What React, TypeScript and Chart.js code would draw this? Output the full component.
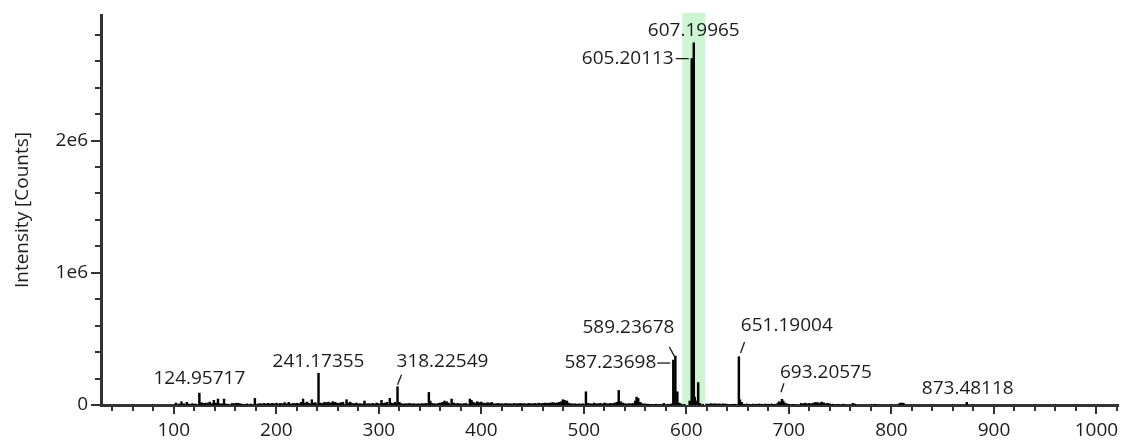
import React, { useEffect, useRef } from 'react';
import { Chart, registerables } from 'chart.js';

Chart.register(...registerables);

// ---------- data ----------
const peakMz: number[] = [
  102.1, 105.0, 107.5, 109.9, 112.7, 115.0, 118.1, 121.0, 124.95717, 127.1, 129.0, 130.9, 133.0, 135.1, 137.0,
  139.1, 141.0, 143.1, 145.2, 147.0, 149.0, 151.1, 153.0, 157.1, 159.0, 161.1, 163.0, 165.1, 167.0, 171.1,
  175.0, 179.1, 182.1, 184.0, 186.0, 188.1, 190.0, 192.1, 194.0, 196.1, 198.0,
  200.1, 202.1, 204.0, 206.2, 208.1, 210.0, 212.1, 214.0, 216.1, 218.0, 220.1, 222.0, 224.1, 226.1, 228.0,
  230.1, 232.0, 234.6, 236.0, 238.1, 241.17355, 243.0, 245.1, 247.0, 249.1, 251.0, 253.1, 255.0, 257.1, 259.0,
  261.1, 263.0, 265.1, 268.5, 270.0, 272.1, 274.0, 276.1, 278.0, 280.1, 282.0, 284.1, 286.0, 288.1, 290.0,
  292.1, 294.0, 296.1, 298.0,
  300.1, 302.6, 304.0, 306.1, 308.0, 310.7, 312.0, 314.1, 316.0, 318.22549, 320.1, 322.0, 324.1, 326.0, 328.1,
  330.0, 332.1, 334.0, 336.1, 338.0, 340.1, 342.0, 344.1, 346.0, 348.8, 350.2, 352.0, 354.1, 356.0, 358.1,
  360.0, 362.1, 364.0, 366.1, 368.0, 371.0, 373.1, 375.0, 377.1, 379.0, 381.1, 383.0, 385.1, 388.8, 390.4,
  392.0, 394.1, 396.0, 398.1,
  400.0, 402.1, 404.0, 406.1, 408.0, 410.1, 412.0, 414.1, 416.0, 418.1, 420.0, 422.1, 424.0, 426.1, 428.0,
  430.1, 432.0, 434.1, 436.0, 438.1, 440.0, 442.1, 444.0, 446.1, 448.0, 450.1, 452.0, 454.1, 456.0, 458.1,
  460.0, 462.1, 464.0, 466.1, 468.0, 470.1, 472.0, 474.1, 476.0, 478.1, 479.5, 481.2, 483.4, 485.0, 487.1,
  489.0, 491.1, 493.0, 495.1, 497.0, 499.1,
  502.0, 504.1, 506.0, 508.1, 510.0, 512.1, 514.0, 516.1, 518.0, 520.1, 522.0, 524.1, 526.0, 528.1, 530.0,
  532.1, 534.0, 536.1, 538.0, 540.1, 542.0, 544.1, 546.0, 548.1, 550.0, 551.4, 553.0, 555.1, 557.0, 559.1,
  561.0, 563.1, 566.0, 570.1, 574.0, 578.0, 582.1, 585.2, 587.23698, 589.23678, 591.2, 593.1, 595.0, 598.0,
  603.2, 605.20113, 607.19965, 608.2, 609.2, 611.5, 613.2, 616.0, 620.0,
  622.1, 624.0, 626.1, 628.0, 630.1, 632.0, 634.1, 636.0, 638.1, 640.0, 644.1, 647.0, 651.19004, 652.2, 653.9,
  656.0, 659.1, 662.0, 665.1, 668.0, 671.1, 674.0, 677.1, 680.0, 683.1, 686.0, 689.1, 690.5, 692.1, 693.20575,
  694.5, 696.0, 697.5, 700.0, 704.1, 712.0, 714.1, 716.0, 718.1, 720.0, 722.1, 724.0, 726.1, 728.0, 730.1,
  732.0, 734.1, 736.0, 738.1, 740.0, 743.1, 748.0, 753.1, 762.4, 764.0, 784.0, 808.0, 809.5, 811.0, 812.3,
  873.48118,
];

const peakIntensity: number[] = [
  15000, 8000, 25000, 9000, 20000, 7000, 10000, 8000, 90000, 18000, 12000, 14000, 15000, 22000, 10000,
  35000, 14000, 45000, 9000, 8000, 45000, 7000, 6000, 12000, 10000, 14000, 12000, 9000, 6000, 8000,
  7000, 50000, 8000, 10000, 9000, 12000, 8000, 13000, 9000, 12000, 9000,
  14000, 8000, 12000, 10000, 18000, 9000, 20000, 8000, 12000, 10000, 13000, 9000, 20000, 45000, 15000,
  22000, 12000, 40000, 14000, 18000, 240000, 15000, 12000, 20000, 18000, 22000, 15000, 25000, 20000, 15000,
  12000, 18000, 20000, 40000, 15000, 22000, 12000, 10000, 15000, 9000, 10000, 8000, 30000, 9000, 10000,
  8000, 12000, 9000, 15000,
  10000, 35000, 12000, 15000, 20000, 50000, 15000, 12000, 20000, 138000, 20000, 10000, 8000, 10000, 9000,
  12000, 8000, 10000, 7000, 9000, 8000, 10000, 9000, 12000, 95000, 30000, 12000, 10000, 8000, 12000,
  15000, 20000, 30000, 25000, 15000, 45000, 15000, 10000, 12000, 9000, 8000, 10000, 12000, 45000, 35000,
  20000, 15000, 25000, 18000,
  22000, 15000, 12000, 18000, 14000, 20000, 9000, 10000, 12000, 9000, 10000, 8000, 12000, 9000, 10000,
  8000, 12000, 9000, 10000, 12000, 9000, 10000, 8000, 12000, 10000, 9000, 12000, 10000, 14000, 10000,
  12000, 15000, 12000, 14000, 16000, 18000, 14000, 16000, 20000, 25000, 40000, 35000, 30000, 15000, 10000,
  8000, 9000, 7000, 8000, 7000, 9000,
  100000, 12000, 10000, 8000, 15000, 9000, 10000, 12000, 8000, 15000, 10000, 9000, 12000, 10000, 15000,
  20000, 110000, 25000, 15000, 10000, 8000, 10000, 9000, 12000, 30000, 60000, 50000, 20000, 10000, 8000,
  7000, 6000, 5000, 6000, 5000, 12000, 6000, 8000, 340000, 370000, 100000, 15000, 8000, 5000,
  30000, 2620000, 2740000, 60000, 30000, 170000, 12000, 5000, 8000,
  6000, 10000, 8000, 9000, 7000, 8000, 6000, 9000, 7000, 6000, 5000, 6000, 365000, 40000, 20000,
  6000, 8000, 5000, 7000, 6000, 8000, 5000, 7000, 6000, 8000, 6000, 15000, 25000, 20000, 43000,
  30000, 15000, 10000, 6000, 5000, 12000, 10000, 14000, 9000, 12000, 10000, 15000, 20000, 18000, 14000,
  22000, 16000, 10000, 12000, 8000, 6000, 5000, 6000, 12000, 8000, 5000, 12000, 15000, 14000, 10000,
  20000,
];

const labelMz: number[] = [
  124.95717, 241.17355, 318.22549, 587.23698, 589.23678, 605.20113, 607.19965, 651.19004, 693.20575, 873.48118,
];
const labelText: string[] = [
  '124.95717', '241.17355', '318.22549', '587.23698', '589.23678', '605.20113', '607.19965', '651.19004',
  '693.20575', '873.48118',
];

const highlightRange: number[] = [596, 618.4];

const xRange: number[] = [29, 1021];
const xMajorTicks: number[] = [100, 200, 300, 400, 500, 600, 700, 800, 900, 1000];
const xMinorStep = 20;

const yRange: number[] = [0, 2950000];
const yMajorTicks: number[] = [0, 1000000, 2000000];
const yTickLabels: string[] = ['0', '1e6', '2e6'];
const yMinorStep = 200000;

const yAxisTitle = 'Intensity [Counts]';

// ---------- styles (label placement relative to peak top, px) ----------
type LabelLayout = { align: 'center' | 'left' | 'right'; tx: number; ty: number; leader?: number[] };
const labelLayout: LabelLayout[] = [
  { align: 'center', tx: 0, ty: -15 },
  { align: 'center', tx: 0, ty: -12 },
  { align: 'left', tx: -1, ty: -25, leader: [0, -2, 4, -12] },
  { align: 'right', tx: -17, ty: 3, leader: [-16, 3, -3, 3] },
  { align: 'right', tx: -1, ty: -28, leader: [-6, -9, -1, 0] },
  { align: 'right', tx: -18, ty: 0, leader: [-16, 0, -3, 0] },
  { align: 'center', tx: 0, ty: -12 },
  { align: 'left', tx: 2, ty: -31, leader: [1.7, -3.7, 5.7, -14.7] },
  { align: 'left', tx: -2, ty: -27, leader: [-1, -7, 2, -16] },
  { align: 'center', tx: 1, ty: -14 },
];

const FONT = "'Open Sans', 'Noto Sans', sans-serif";
const FONT_SIZE = 19;
const TEXT_COLOR = '#1c1c1c';
const AXIS_COLOR = '#333333';
const BAND_COLOR = '#cdf5d1';

export default function App() {
  const canvasRef = useRef<HTMLCanvasElement | null>(null);

  useEffect(() => {
    const canvas = canvasRef.current;
    if (!canvas) return;

    const xTicks: number[] = [];
    for (let v = 40; v <= xRange[1]; v += xMinorStep) xTicks.push(v);
    const yTicks: number[] = [];
    for (let v = 0; v <= yRange[1]; v += yMinorStep) yTicks.push(v);

    const bandPlugin = {
      id: 'band',
      beforeDatasetsDraw(chart: any) {
        const { ctx, chartArea, scales } = chart;
        const x1 = scales.x.getPixelForValue(highlightRange[0]);
        const x2 = scales.x.getPixelForValue(highlightRange[1]);
        ctx.save();
        ctx.fillStyle = BAND_COLOR;
        ctx.fillRect(x1, chartArea.top - 2, x2 - x1, chartArea.bottom - chartArea.top + 2);
        ctx.restore();
      },
    };

    const ticksAndLabelsPlugin = {
      id: 'ticksLabels',
      afterDraw(chart: any) {
        const { ctx, chartArea, scales } = chart;
        const xs = scales.x;
        const ys = scales.y;
        ctx.save();
        ctx.strokeStyle = AXIS_COLOR;
        ctx.lineWidth = 2;
        ctx.beginPath();
        xs.ticks.forEach((t: any) => {
          const px = Math.round(xs.getPixelForValue(t.value));
          const len = xMajorTicks.includes(t.value) ? 9 : 6;
          ctx.moveTo(px, chartArea.bottom);
          ctx.lineTo(px, chartArea.bottom + len);
        });
        ys.ticks.forEach((t: any) => {
          const py = Math.round(ys.getPixelForValue(t.value));
          const len = yMajorTicks.includes(t.value) ? 10 : 6;
          ctx.moveTo(chartArea.left, py);
          ctx.lineTo(chartArea.left - len, py);
        });
        ctx.stroke();

        // peak labels
        ctx.font = `${FONT_SIZE}px ${FONT}`;
        ctx.fillStyle = TEXT_COLOR;
        ctx.strokeStyle = TEXT_COLOR;
        ctx.lineWidth = 1.3;
        ctx.textBaseline = 'middle';
        labelMz.forEach((mz, i) => {
          const idx = peakMz.indexOf(mz);
          const px = xs.getPixelForValue(mz);
          const py = ys.getPixelForValue(idx >= 0 ? peakIntensity[idx] : 0);
          const lay = labelLayout[i];
          ctx.textAlign = lay.align;
          ctx.fillText(labelText[i], px + lay.tx, py + lay.ty);
          if (lay.leader) {
            const l = lay.leader;
            ctx.beginPath();
            ctx.moveTo(px + l[0], py + l[1]);
            ctx.lineTo(px + l[2], py + l[3]);
            ctx.stroke();
          }
        });
        ctx.restore();
      },
    };

    const chart = new Chart(canvas, {
      type: 'bar',
      data: {
        datasets: [
          {
            data: peakMz.map((m, i) => ({ x: m, y: peakIntensity[i] })),
            backgroundColor: '#000000',
            borderWidth: 0,
            barThickness: 1.8,
          } as any,
        ],
      },
      options: {
        animation: false,
        responsive: false,
        devicePixelRatio: 1,
        layout: { padding: { left: 0, top: 15, right: 6, bottom: 0 } },
        plugins: { legend: { display: false }, tooltip: { enabled: false } },
        scales: {
          x: {
            type: 'linear',
            offset: false,
            min: xRange[0],
            max: xRange[1],
            grid: { display: false, drawTicks: false },
            border: { display: true, color: AXIS_COLOR, width: 3 },
            afterBuildTicks: (s: any) => {
              s.ticks = xTicks.map((v) => ({ value: v }));
            },
            afterFit: (s: any) => {
              s.height = 39;
              s.paddingLeft = 0;
              s.paddingRight = 0;
            },
            ticks: {
              autoSkip: false,
              maxRotation: 0,
              padding: 14,
              color: TEXT_COLOR,
              font: { family: FONT, size: FONT_SIZE },
              callback: (v: any) => (xMajorTicks.includes(Number(v)) ? String(v) : ''),
            },
          },
          y: {
            type: 'linear',
            min: yRange[0],
            max: yRange[1],
            grid: { display: false, drawTicks: false },
            border: { display: true, color: AXIS_COLOR, width: 3 },
            afterBuildTicks: (s: any) => {
              s.ticks = yTicks.map((v) => ({ value: v }));
            },
            afterFit: (s: any) => {
              s.width = 101;
              s.paddingTop = 0;
              s.paddingBottom = 0;
            },
            title: {
              display: true,
              text: yAxisTitle,
              color: TEXT_COLOR,
              font: { family: FONT, size: FONT_SIZE },
              padding: { top: 11, bottom: 0 },
            },
            ticks: {
              autoSkip: false,
              padding: 13,
              color: TEXT_COLOR,
              font: { family: FONT, size: FONT_SIZE },
              callback: (v: any) => {
                const k = yMajorTicks.indexOf(Number(v));
                return k >= 0 ? yTickLabels[k] : '';
              },
            },
          },
        },
      },
      plugins: [bandPlugin, ticksAndLabelsPlugin],
    });

    return () => chart.destroy();
  }, []);

  return (
    <div style={{ position: 'fixed', left: 0, top: 0, width: 1124, height: 444, background: '#fff' }}>
      <canvas ref={canvasRef} width={1124} height={444} style={{ display: 'block' }} />
    </div>
  );
}
